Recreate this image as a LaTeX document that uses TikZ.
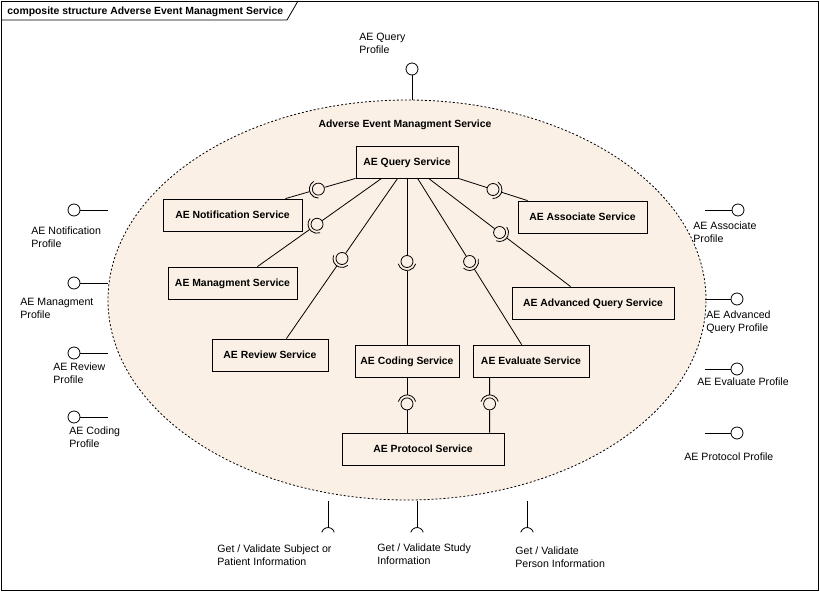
\documentclass[tikz,border=0pt]{standalone}
\usepackage{fontspec}
\setmainfont{Liberation Sans}
\usetikzlibrary{calc,shapes.geometric}
\definecolor{bg}{RGB}{250,240,229}
\newcommand{\fs}{\fontsize{10.6}{13}\selectfont}
\newcommand{\fb}{\bfseries\fontsize{10.4}{13}\selectfont}
% assembly connector: #1 ball name, #2 provider point, #3 consumer point, #4 fraction
\newcommand{\asm}[4]{%
  \node[aball] (#1) at ($(#2)!#4!(#3)$) {};
  \draw (#2) -- (#1);
  \draw ($(#1.center)!9pt!(#3)$) -- (#3);
  \draw let \p1=($(#3)-(#1.center)$), \n1={atan2(\y1,\x1)} in
    ($(#1.center)+(\n1-75:9pt)$) arc[start angle=\n1-75, end angle=\n1+75, radius=9pt];
}
\tikzset{
  svc/.style={draw, fill=bg, font=\fb, minimum height=32pt, inner sep=0pt, text height=7.4pt, text depth=0pt},
  lbl/.style={anchor=base west, align=left, inner sep=0pt, font=\fs},
  aball/.style={circle, draw, minimum size=12pt, inner sep=0pt},
  oball/.style={circle, draw, fill=white, minimum size=12pt, inner sep=0pt},
}
\begin{document}
\begin{tikzpicture}[x=1pt,y=1pt,line width=0.8pt]
\useasboundingbox (0,0) rectangle (820,-592);
\fill[white] (0,0) rectangle (820,-592);
% frame
\draw (1,-1) rectangle (818,-590);
\draw (1,-20) -- (287,-20) -- (298,-1);
\node[anchor=base west, inner sep=0pt, font=\fb] (frametitle) at (7,-14) {composite structure Adverse Event Managment Service};
% composite ellipse
\node[ellipse, draw, dash pattern=on 2pt off 2pt, fill=bg, minimum width=598pt, minimum height=400pt, inner sep=0pt] (ell) at (407,-300) {};
\node[anchor=base, inner sep=0pt, font=\fb] (etitle) at (405,-127) {Adverse Event Managment Service};
% parts
\node[svc, minimum width=102pt] (query) at (407,-162) {AE Query Service};
\node[svc, minimum width=139pt] (notif) at (232.5,-215) {AE Notification Service};
\node[svc, minimum width=129pt] (mgmt) at (232.5,-283) {AE Managment Service};
\node[svc, minimum width=116pt] (rev) at (270,-355) {AE Review Service};
\node[svc, minimum width=104pt] (coding) at (407,-361) {AE Coding Service};
\node[svc, minimum width=116pt] (eval) at (531,-361) {AE Evaluate Service};
\node[svc, minimum width=162pt] (prot) at (423,-449) {AE Protocol Service};
\node[svc, minimum width=129pt] (assoc) at (582.5,-217) {AE Associate Service};
\node[svc, minimum width=162pt] (adv) at (593,-303) {AE Advanced Query Service};
% attachment points
\coordinate (q1) at (query.south west);
\coordinate (q2) at ([xshift=26pt]query.south west);
\coordinate (q3) at ([xshift=42pt]query.south west);
\coordinate (q4) at (query.south);
\coordinate (q5) at ([xshift=62pt]query.south west);
\coordinate (q6) at ([xshift=73pt]query.south west);
\coordinate (q7) at (query.south east);
\coordinate (t1) at ([xshift=-17pt]notif.north east);
\coordinate (t2) at ([xshift=-40pt]mgmt.north east);
\coordinate (t3) at ([xshift=-42pt]rev.north east);
\coordinate (t4) at (coding.north);
\coordinate (t5) at ([xshift=49pt]eval.north west);
\coordinate (t6) at ([xshift=59pt]adv.north west);
\coordinate (t7) at ([xshift=10pt]assoc.north west);
\coordinate (c1) at (coding.south);
\coordinate (p1) at (coding.south |- prot.north);
\coordinate (c2) at ([xshift=17pt]eval.south west);
\coordinate (p2) at (c2 |- prot.north);
% assembly connectors
\asm{b1}{q1}{t1}{0.53}
\asm{b2}{q2}{t2}{0.52}
\asm{b3}{q3}{t3}{0.5}
\asm{b4}{q4}{t4}{0.5}
\asm{b5}{q5}{t5}{0.5}
\asm{b6}{q6}{t6}{0.5}
\asm{b7}{q7}{t7}{0.5}
\asm{b8}{p1}{c1}{0.52}
\asm{b9}{p2}{c2}{0.52}
% provided interfaces
\node[oball] (pq) at (412,-69) {};
\coordinate (pqe) at (412,-100);
\draw (pq) -- (pqe);
\node[lbl] (pql) at (359,-53) {AE Query\\Profile};

\node[oball] (pn) at (74,-210) {};
\coordinate (pne) at (108,-210);
\draw (pn) -- (pne);
\node[lbl] (pnl) at (31,-247) {AE Notification\\Profile};

\node[oball] (pm) at (74,-283) {};
\coordinate (pme) at (108,-283);
\draw (pm) -- (pme);
\node[lbl] (pml) at (20,-318) {AE Managment\\Profile};

\node[oball] (pr) at (74,-353) {};
\coordinate (pre) at (108,-353);
\draw (pr) -- (pre);
\node[lbl] (prl) at (53,-383) {AE Review\\Profile};

\node[oball] (pc) at (74,-417) {};
\coordinate (pce) at (108,-417);
\draw (pc) -- (pce);
\node[lbl] (pcl) at (69,-447) {AE Coding\\Profile};

\node[oball] (pa) at (738,-210) {};
\coordinate (pae) at (705,-210);
\draw (pae) -- (pa);
\node[lbl] (pal) at (693,-242) {AE Associate\\Profile};

\node[oball] (pv) at (737,-299) {};
\coordinate (pve) at (705,-299);
\draw (pve) -- (pv);
\node[lbl] (pvl) at (706,-331) {AE Advanced\\Query Profile};

\node[oball] (pe) at (737,-369) {};
\coordinate (pee) at (705,-369);
\draw (pee) -- (pe);
\node[lbl] (pel) at (697,-385) {AE Evaluate Profile};

\node[oball] (pp) at (737,-433) {};
\coordinate (ppe) at (705,-433);
\draw (ppe) -- (pp);
\node[lbl] (ppl) at (684,-460) {AE Protocol Profile};

% required interfaces
\foreach \n/\x in {r1/328, r2/417, r3/527}{
  \coordinate (\n a) at (\x,-501);
  \coordinate (\n b) at (\x,-527.5);
  \coordinate (\n c) at (\x,-534);
  \draw (\n a) -- (\n b);
  \draw ($(\n c)+(15:6.5pt)$) arc[start angle=15, end angle=165, radius=6.5pt];
}
\node[lbl] (r1l) at (217,-565) {Get / Validate Subject or\\Patient Information};
\node[lbl] (r2l) at (377,-564) {Get / Validate Study\\Information};
\node[lbl] (r3l) at (515,-567) {Get / Validate\\Person Information};
\end{tikzpicture}
\end{document}
